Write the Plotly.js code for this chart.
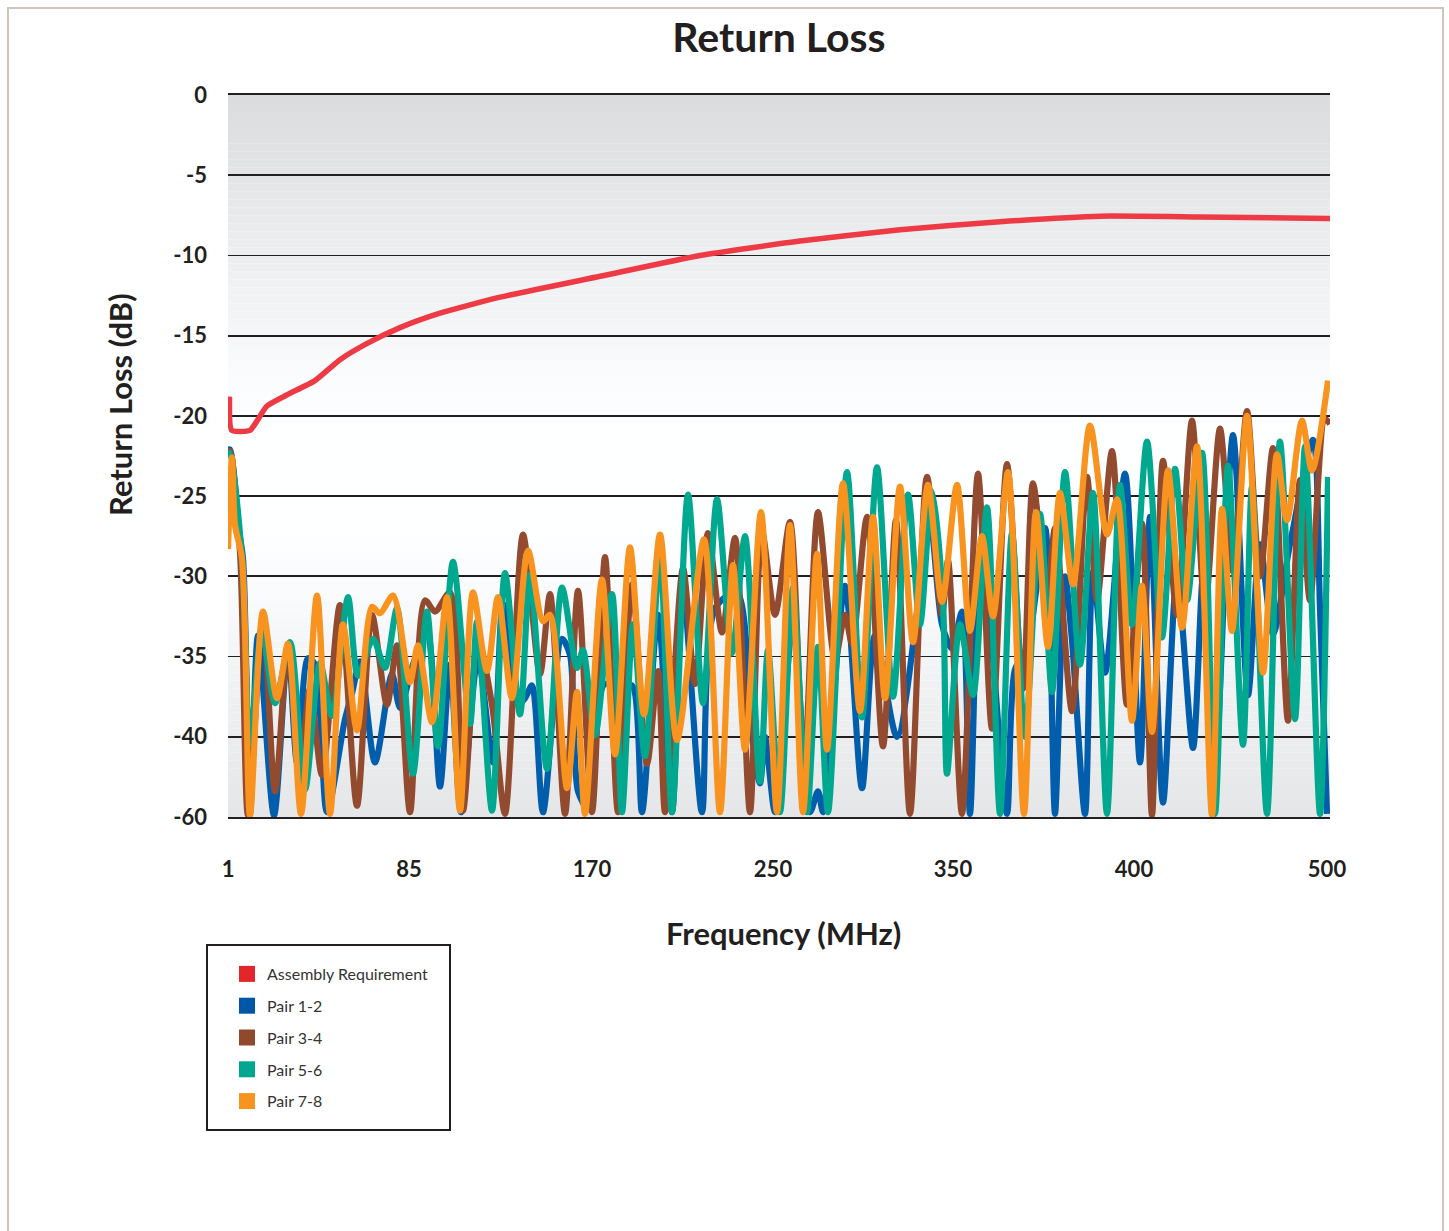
<!DOCTYPE html>
<html><head><meta charset="utf-8">
<script src="https://cdn.plot.ly/plotly-3.0.1.min.js"></script>
<style>
html,body{margin:0;padding:0;background:#fff;}
#chart{position:absolute;left:0;top:0;width:1449px;height:1231px;}
#frame{position:absolute;left:7px;top:7px;width:1437px;height:1260px;border:2px solid #cdc6bf;box-sizing:border-box;pointer-events:none;}
</style></head><body>
<div id="chart"></div><div id="frame"></div>
<script>
// ---- data (x = sample position along the frequency axis, y = return loss in dB; -45 is the axis floor labelled -60)
const freqTickPos = [0, 181, 364, 545, 725, 906, 1099];
const freqTickLabels = ['1', '85', '170', '250', '350', '400', '500'];
const dbTickVals = [0, -5, -10, -15, -20, -25, -30, -35, -40, -45];
const dbTickLabels = ['0', '-5', '-10', '-15', '-20', '-25', '-30', '-35', '-40', '-60'];
const seriesNames = ['Assembly Requirement', 'Pair 1-2', 'Pair 3-4', 'Pair 5-6', 'Pair 7-8'];

const reqPos = [1.5, 3.7, 22, 38.7, 58.7, 87, 112, 138.7, 172, 212, 272, 372, 472, 572, 672, 772, 872, 972, 1102];
const reqDb = [-18.8, -20.9, -20.9, -19.4, -18.7, -17.8, -16.5, -15.5, -14.5, -13.6, -12.6, -11.3, -10.0, -9.1, -8.4, -7.9, -7.55, -7.6, -7.7];

const pair12Pos = [0,2,10,15,22,30,46,60,69,80,87,99,117,124,132,147,164,172,185,199,212,222,233,250,265,275,290,297,304,315,334,342,350,360,370,377,392,404,414,430,444,455,474,487,509,524,532,537,547,565,582,590,595,617,634,647,669,692,702,714,724,734,742,752,762,779,787,799,817,822,827,837,844,857,865,877,897,912,922,935,949,965,975,985,1005,1020,1032,1045,1062,1085,1092,1099];
const pair12Db = [-22.1,-22.1,-26.8,-28.9,-44.8,-33.7,-44.9,-34.5,-41.6,-35.1,-35.5,-44.7,-38.9,-37.3,-35.3,-41.6,-36.1,-38.2,-35.5,-33.4,-43.1,-35.5,-44.7,-35.1,-41.6,-31.7,-38,-37.6,-36.8,-44.7,-33.9,-34.9,-43.4,-44.5,-38,-36.7,-37,-36.8,-44.7,-32.4,-44.7,-30.9,-44.7,-32,-31,-40,-42.9,-40,-44.7,-33,-44.7,-43.4,-44.7,-30.6,-43.2,-33.7,-40,-30.8,-26.5,-33,-34.5,-32.2,-44.8,-28.7,-33,-44.8,-35.8,-34.5,-27,-33,-44.8,-30,-34,-44.8,-29.7,-36,-23.6,-41.6,-26.3,-44.1,-30,-40.7,-30,-44.8,-21.2,-37.4,-28,-33.6,-28,-21.5,-32,-44.8];

const pair34Pos = [0,2,12,20,35,47,60,72,82,94,112,129,144,159,169,182,197,207,222,235,250,264,277,295,312,322,337,350,364,377,390,404,419,430,437,455,467,480,494,507,522,534,547,562,576,590,607,617,624,639,655,668,682,699,714,720,734,750,764,779,795,805,819,827,844,859,869,884,899,914,924,935,949,964,977,992,1005,1019,1032,1045,1060,1072,1082,1097,1102];
const pair34Db = [-22.3,-22.2,-28.5,-44.9,-32.6,-43.4,-34.5,-42,-37,-42.4,-31.8,-44.3,-32.4,-38,-34.3,-44.7,-31.5,-32.2,-31,-44.6,-34,-38,-44.8,-27.4,-36.1,-31.1,-44.8,-30.9,-44.7,-28.8,-44.7,-30.5,-41.7,-35.9,-44.7,-29.5,-36.7,-27.3,-33.5,-27.6,-44.7,-27.2,-32.4,-26.6,-42,-26,-35.2,-32.4,-34.2,-26.3,-40.6,-26.5,-44.8,-23.8,-32.4,-29,-44.8,-23.6,-39.5,-23,-37,-24.2,-31,-27,-38.4,-23.8,-31.5,-22.2,-38,-26.7,-44.9,-22.8,-32.4,-20.3,-32,-20.8,-29.7,-19.7,-30,-22,-39,-24,-31.5,-20.2,-20.5];

const pair56Pos = [0,2,14,22,34,47,62,77,92,104,120,130,145,157,169,185,199,210,225,242,249,264,277,292,302,319,334,349,355,367,384,394,405,417,432,444,460,475,489,504,517,532,540,552,565,579,590,600,619,634,649,665,680,692,704,715,719,732,745,759,772,784,797,812,824,837,852,865,879,892,904,919,934,947,959,974,987,1000,1015,1024,1039,1052,1067,1077,1092,1100];
const pair56Db = [-22.5,-22.3,-28.9,-40.4,-33.3,-37.9,-34.1,-43.3,-35.4,-38.7,-31.3,-36.2,-33.9,-35.7,-32,-42.3,-32.2,-40.6,-29.1,-39.2,-32.8,-44.6,-29.8,-38.6,-29.9,-42,-30.7,-35.7,-34.6,-39.9,-31.1,-44.7,-33,-41.2,-28.8,-44.7,-24.9,-37.9,-25.2,-34.8,-27.5,-42.8,-34.6,-44.7,-30.7,-44.7,-34.4,-44.7,-23.5,-38.8,-23.2,-37.5,-24.9,-33,-24.7,-31.6,-42.3,-33,-37.4,-25.7,-44.8,-27.3,-40,-26.1,-37.2,-23.5,-35.5,-24.8,-44.8,-24.3,-33,-21.6,-33.8,-23.3,-31.5,-22.3,-44.8,-23.1,-40.5,-24.4,-44.8,-21.6,-38.9,-21.9,-44.8,-23.8];

const pair78Pos = [0,4,7,14,22,35,49,60,73,89,102,115,129,144,152,165,182,190,204,219,232,245,259,270,284,300,315,322,339,349,357,374,387,402,416,432,449,476,492,505,517,533,549,562,575,589,599,615,632,645,657,672,685,700,714,729,742,754,765,780,796,808,820,832,845,862,879,889,904,914,924,940,954,969,984,994,1004,1019,1035,1049,1059,1074,1084,1100];
const pair78Db = [-28.3,-22.6,-26.8,-28.9,-44.9,-32.2,-37.6,-34.2,-44.8,-31.2,-44.8,-33,-39.6,-31.9,-32.3,-31.2,-36.6,-34.3,-39.1,-31.3,-44.6,-31,-35.9,-31.3,-37.6,-28.4,-32.8,-32.4,-43.2,-37.2,-44.8,-30.2,-41.1,-28.2,-38.6,-27.4,-40.2,-27.7,-44.7,-29.3,-40.8,-26,-44.7,-26.8,-44.7,-28.6,-40.8,-24.2,-38.4,-26.3,-37.6,-24.4,-34.1,-24.3,-31.6,-24.3,-33.4,-27.5,-32.5,-23.5,-44.8,-26,-34.4,-24.8,-30.5,-20.6,-27.4,-25.2,-39,-30.6,-39.7,-23.4,-33.2,-21.9,-44.9,-25.8,-33.4,-20,-36,-22.4,-26.5,-20.3,-23.4,-17.8];

// ---- styles
const lineColors = ['#ee3a45', '#005ead', '#934b2f', '#00a88f', '#f7931e'];
const legendColors = ['#e2272b', '#0057a5', '#8f4a2e', '#00a68f', '#f7941d'];
const FONT = 'Lato, "Open Sans", sans-serif';
const INK = '#231f20';
const W = 1449, H = 1231, L = 228, R = 1330, T = 95, B = 817;
const px2paperX = p => (p - L) / (R - L);
const px2paperY = p => (B - p) / (B - T);

const lineSeries = [
  [reqPos, reqDb, 0.5, 5.5],
  [pair12Pos, pair12Db, 0.8, 6.2],
  [pair34Pos, pair34Db, 0.8, 6.2],
  [pair56Pos, pair56Db, 0.8, 6.2],
  [pair78Pos, pair78Db, 0.8, 6.2]
];

const traces = [];
seriesNames.forEach((name, i) => {
  traces.push({
    type: 'scatter', mode: 'markers', x: [null], y: [null], name: name,
    legendgroup: 'g' + i, hoverinfo: 'skip',
    marker: {symbol: 'square', size: 18, color: legendColors[i]}
  });
});
lineSeries.forEach((s, i) => {
  traces.push({
    type: 'scatter', mode: 'lines', x: s[0], y: s[1], name: seriesNames[i],
    showlegend: false, hoverinfo: 'x+y',
    line: {color: lineColors[i], width: s[3], shape: 'spline', smoothing: s[2]}
  });
});

// vertical background gradient (drawn as thin bands)
const grayStops = [[0, 220], [-5, 228], [-10, 238], [-15, 246], [-18, 252], [-21, 255], [-27, 255], [-32, 249], [-37, 241], [-42, 234], [-45, 230]];
function grayAt(v) {
  for (let k = 0; k < grayStops.length - 1; k++) {
    const a = grayStops[k], b = grayStops[k + 1];
    if (v <= a[0] && v >= b[0]) {
      const t = (a[0] - v) / (a[0] - b[0]);
      return a[1] + (b[1] - a[1]) * t;
    }
  }
  return 255;
}
const shapes = [];
for (let v = 0; v > -45; v -= 0.5) {
  const g = Math.round(grayAt(v - 0.25));
  shapes.push({
    type: 'rect', xref: 'paper', yref: 'y', x0: 0, x1: 1, y0: v, y1: v - 0.5,
    fillcolor: `rgb(${Math.max(g - 1, 0)},${g},${Math.min(g + 2, 255)})`,
    line: {width: 0}, layer: 'below'
  });
}
// legend frame
shapes.push({
  type: 'rect', xref: 'paper', yref: 'paper',
  x0: px2paperX(207), x1: px2paperX(450), y0: px2paperY(945), y1: px2paperY(1130),
  line: {color: INK, width: 2}, fillcolor: 'rgba(0,0,0,0)', layer: 'above'
});

const layout = {
  width: W, height: H,
  margin: {l: L, r: W - R, t: T, b: H - B},
  paper_bgcolor: '#ffffff', plot_bgcolor: '#ffffff',
  showlegend: true,
  title: {
    text: 'Return Loss', x: 0.5, xref: 'paper', xanchor: 'center',
    y: 1 - 38 / H, yref: 'container', yanchor: 'middle',
    font: {family: FONT, size: 41, weight: 700, color: INK}
  },
  xaxis: {
    range: [0, 1102], tickmode: 'array', tickvals: freqTickPos, ticktext: freqTickLabels,
    showgrid: false, zeroline: false, showline: true, mirror: true,
    linecolor: INK, linewidth: 2, ticks: '', ticklabelstandoff: 32,
    tickfont: {family: FONT, size: 22, weight: 700, color: INK}
  },
  yaxis: {
    range: [-45, 0], tickmode: 'array', tickvals: dbTickVals, ticktext: dbTickLabels,
    showgrid: true, gridcolor: INK, gridwidth: 1.8, zeroline: false, showline: false,
    ticks: '', ticklabelstandoff: 20,
    tickfont: {family: FONT, size: 22, weight: 700, color: INK}
  },
  shapes: shapes,
  annotations: [
    {text: 'Frequency (MHz)', xref: 'paper', yref: 'paper', x: px2paperX(783), y: px2paperY(933),
     xanchor: 'center', yanchor: 'middle', showarrow: false,
     font: {family: FONT, size: 31, weight: 700, color: INK}},
    {text: 'Return Loss (dB)', xref: 'paper', yref: 'paper', x: px2paperX(120), y: px2paperY(405),
     xanchor: 'center', yanchor: 'middle', showarrow: false, textangle: -90,
     font: {family: FONT, size: 31, weight: 700, color: INK}}
  ],
  legend: {
    x: px2paperX(209), y: px2paperY(957), xanchor: 'left', yanchor: 'top',
    bgcolor: 'rgba(0,0,0,0)', borderwidth: 0,
    font: {family: FONT, size: 16, color: '#333333'},
    traceorder: 'grouped', tracegroupgap: 8, indentation: 18
  }
};

Plotly.newPlot('chart', traces, layout, {staticPlot: true, displayModeBar: false});
</script>
</body></html>
